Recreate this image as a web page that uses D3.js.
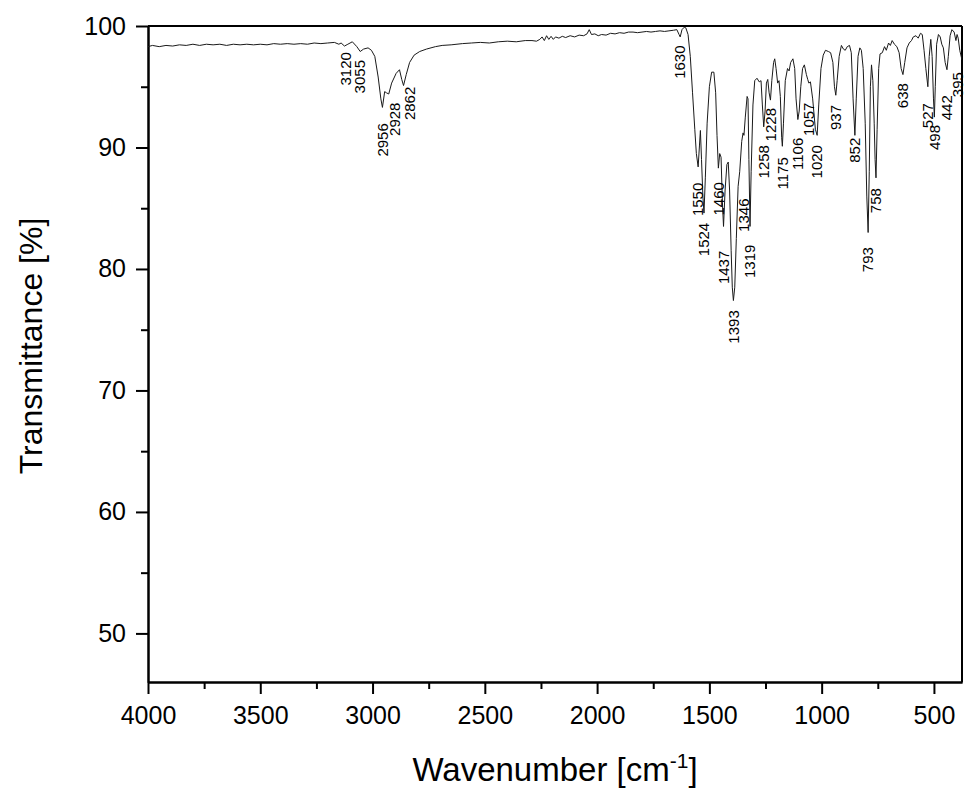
<!DOCTYPE html>
<html>
<head>
<meta charset="utf-8">
<script src="https://cdn.jsdelivr.net/npm/d3@7"></script>
<style>
  body { margin: 0; background: #fff; }
  svg { display: block; font-family: "Liberation Sans", Arial, sans-serif; }
  .axis path, .axis line { stroke: #000; stroke-width: 2px; }
  .axis text { font-size: 25px; fill: #000; }
</style>
</head>
<body>
<svg id="chart" width="965" height="791"></svg>
<script>
// spectrum (wavenumber in cm-1, transmittance in %)
var wavenumber = [
  4000,3980,3950,3920,3890,3860,3830,3800,3770,3740,3710,3680,3650,3620,3590,3560,3530,3500,
  3470,3440,3410,3380,3350,3320,3290,3260,3230,3200,3170,3150,3140,3125,3110,3090,3070,3055,
  3040,3020,3005,2990,2975,2963,2956,2946,2938,2928,2915,2895,2880,2870,2862,2850,2835,2815,
  2790,2760,2720,2690,2650,2600,2560,2520,2480,2440,2400,2360,2320,2290,2270,2255,2245,2235,
  2225,2215,2205,2195,2185,2170,2155,2140,2120,2100,2080,2060,2045,2035,2025,2010,1995,1980,
  1960,1940,1920,1900,1880,1860,1840,1820,1800,1780,1760,1740,1720,1700,1680,1660,1645,1635,
  1630,1622,1612,1605,1595,1585,1575,1565,1558,1550,1544,1540,1535,1529,1524,1518,1510,1500,
  1490,1480,1472,1466,1460,1454,1448,1442,1437,1430,1422,1416,1410,1403,1398,1393,1387,1380,
  1372,1365,1356,1350,1346,1340,1332,1328,1324,1319,1314,1306,1298,1288,1278,1270,1264,1258,
  1252,1246,1240,1234,1228,1222,1214,1209,1203,1196,1190,1184,1178,1175,1170,1162,1152,1145,
  1138,1128,1120,1114,1106,1100,1093,1085,1077,1068,1062,1057,1050,1040,1028,1020,1013,1003,
  993,983,970,960,950,943,937,931,922,912,903,895,886,876,868,860,852,846,838,830,823,815,806,
  799,793,788,783,778,772,766,762,758,753,746,740,730,720,712,702,694,686,676,665,655,646,638,
  630,620,610,600,592,580,570,560,552,544,536,527,521,514,508,502,498,494,488,480,472,465,458,
  450,442,436,428,420,410,402,397,392,385,375
];
var transmittance = [
  98.3,98.4,98.3,98.4,98.35,98.45,98.4,98.5,98.4,98.5,98.45,98.5,98.4,98.5,98.45,98.5,98.45,98.5,
  98.45,98.55,98.5,98.55,98.5,98.55,98.5,98.6,98.55,98.6,98.65,98.5,98.6,98.35,98.5,98.7,98.3,97.9,
  98.1,98.2,98.0,97.5,95.8,94.0,93.3,94.6,94.5,94.4,95.3,96.1,96.4,95.6,95.1,96.0,97.0,97.6,
  97.9,98.1,98.3,98.4,98.45,98.55,98.6,98.65,98.6,98.7,98.75,98.7,98.8,98.8,98.75,98.9,99.1,98.8,
  99.2,98.9,99.15,98.9,99.1,99.0,99.15,99.05,99.2,99.1,99.25,99.2,99.35,99.7,99.3,99.35,99.2,99.3,
  99.25,99.4,99.35,99.45,99.4,99.5,99.5,99.45,99.5,99.55,99.5,99.55,99.6,99.55,99.6,99.65,99.7,99.3,
  99.1,99.7,99.9,99.85,99.3,97.5,94.5,91.5,89.5,88.4,90.2,91.4,89.0,86.0,84.6,87.5,92.0,95.0,
  96.2,96.2,94.5,91.0,88.3,89.5,89.2,85.5,83.5,86.5,88.6,88.8,86.5,81.5,78.5,77.4,78.5,82.5,
  86.8,88.0,90.5,91.2,91.0,92.5,94.2,94.0,89.0,83.5,88.0,93.5,95.5,95.7,95.4,95.5,93.5,91.7,
  93.0,95.3,95.6,94.5,93.9,95.5,97.0,97.3,96.5,95.3,95.5,94.2,90.8,90.1,92.0,95.5,96.5,96.3,
  97.0,97.3,96.5,94.0,92.3,93.0,95.0,96.5,96.8,96.0,95.6,95.3,95.4,94.0,91.5,91.0,93.5,96.5,
  97.6,98.0,97.9,97.8,97.0,95.0,94.3,95.5,97.5,98.4,98.1,98.0,98.3,98.4,97.8,94.0,91.0,94.0,97.5,98.2,98.0,96.5,92.0,
  86.0,83.0,88.0,95.0,96.8,95.5,92.0,89.0,87.5,91.5,96.5,97.7,97.8,98.3,98.0,98.6,98.4,98.8,98.5,98.3,97.8,96.5,96.0,
  97.0,98.2,98.6,98.8,99.1,99.2,99.0,99.4,99.3,98.0,96.5,95.0,97.5,98.9,97.5,94.0,92.5,95.0,98.5,99.3,99.1,98.5,98.2,
  97.0,96.4,97.5,99.2,99.7,99.5,98.8,99.3,99.0,98.0,97.2
];

// peak annotations: wavenumber and the transmittance level where each label starts
var peakLabels = [3120,3055,2956,2928,2862,1630,1550,1524,1460,1437,1393,1346,1319,1258,1228,
  1175,1106,1057,1020,937,852,793,758,638,527,498,442,395];
var peakLabelT = [97.85,97.2,92.0,93.7,95.0,98.4,87.1,83.8,87.15,81.5,76.6,85.8,82.0,90.2,93.25,
  89.2,90.8,93.7,90.2,93.5,90.8,81.8,86.65,95.3,93.65,91.85,94.3,96.2];
// a few labels were pushed sideways in the original so they do not collide
var labelNudge = {2928: 6, 2862: 6};

var xTicks = [4000,3500,3000,2500,2000,1500,1000,500];
var yTicks = [50,60,70,80,90,100];

var margin = {top: 26, right: 3, bottom: 109, left: 148};
var width = 965 - margin.left - margin.right;
var height = 791 - margin.top - margin.bottom;

var svg = d3.select('#chart');
var g = svg.append('g').attr('transform', 'translate(' + margin.left + ',' + margin.top + ')');

var x = d3.scaleLinear().domain([4000, 375]).range([0, width]);
var y = d3.scaleLinear().domain([46, 100]).range([height, 0]);

svg.append('defs').append('clipPath').attr('id', 'clip')
  .append('rect').attr('width', width).attr('height', height);

// minor ticks first so the major ones sit on top
g.append('g').attr('class', 'axis')
  .attr('transform', 'translate(0,' + height + ')')
  .call(d3.axisBottom(x).tickValues(d3.range(3750, 375, -500)).tickSize(7).tickFormat('').tickSizeOuter(0));
g.append('g').attr('class', 'axis')
  .call(d3.axisLeft(y).tickValues([55,65,75,85,95]).tickSize(7).tickFormat('').tickSizeOuter(0));

g.append('g').attr('class', 'axis')
  .attr('transform', 'translate(0,' + height + ')')
  .call(d3.axisBottom(x).tickValues(xTicks).tickFormat(d3.format('d')).tickSize(12).tickPadding(12).tickSizeOuter(0));
g.append('g').attr('class', 'axis')
  .call(d3.axisLeft(y).tickValues(yTicks).tickSize(12).tickPadding(10).tickSizeOuter(0));

// top and right frame
g.append('line').attr('x1', 0).attr('x2', width).attr('y1', 0).attr('y2', 0)
  .attr('stroke', '#000').attr('stroke-width', 2);
g.append('line').attr('x1', width).attr('x2', width).attr('y1', 0).attr('y2', height)
  .attr('stroke', '#000').attr('stroke-width', 2);

var pts = wavenumber.map(function (w, i) { return [w, transmittance[i]]; });
var line = d3.line()
  .x(function (d) { return x(d[0]); })
  .y(function (d) { return y(d[1]); });

g.append('path')
  .datum(pts)
  .attr('clip-path', 'url(#clip)')
  .attr('fill', 'none')
  .attr('stroke', '#1a1a1a')
  .attr('stroke-width', 1)
  .attr('stroke-linejoin', 'round')
  .attr('d', line);

g.selectAll('.peak')
  .data(peakLabels)
  .enter().append('text')
  .attr('class', 'peak')
  .attr('transform', function (d, i) {
    var px = x(d) + (labelNudge[d] || 0);
    return 'translate(' + px + ',' + y(peakLabelT[i]) + ') rotate(-90)';
  })
  .attr('text-anchor', 'end')
  .attr('dy', '0.35em')
  .style('font-size', '15px')
  .text(function (d) { return d; });

// axis titles
svg.append('text')
  .attr('x', margin.left + width / 2)
  .attr('y', 781)
  .attr('text-anchor', 'middle')
  .style('font-size', '33px')
  .html('Wavenumber [cm<tspan dy="-13" font-size="21px">-1</tspan><tspan dy="13">]</tspan>');

svg.append('text')
  .attr('transform', 'translate(42,346) rotate(-90)')
  .attr('text-anchor', 'middle')
  .style('font-size', '32px')
  .text('Transmittance [%]');
</script>
</body>
</html>
